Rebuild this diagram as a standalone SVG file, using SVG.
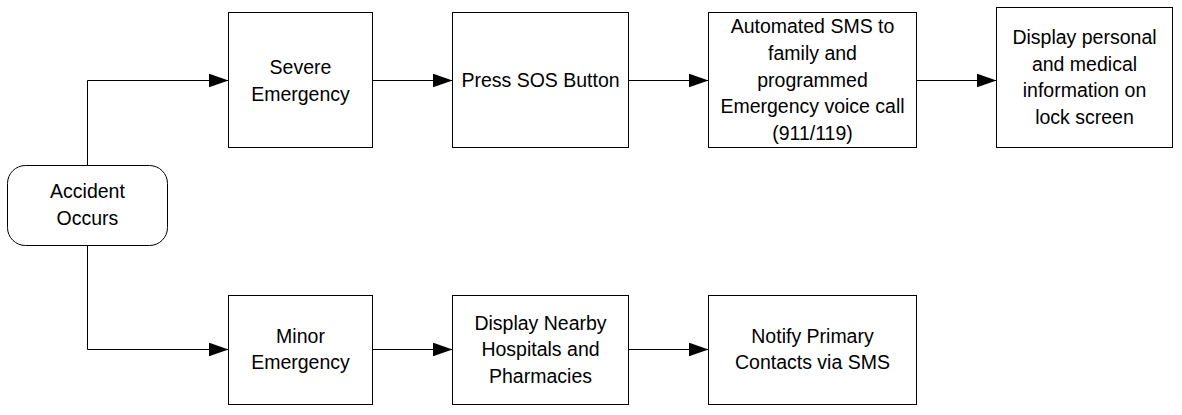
<svg xmlns="http://www.w3.org/2000/svg" width="1182" height="415" viewBox="0 0 1182 415">
<defs>
<style>
.box{fill:#fff;stroke:#000;stroke-width:1}
.t{font-family:"Liberation Sans",Arial,sans-serif;font-size:19.5px;fill:#000;text-anchor:middle}
.c{fill:none;stroke:#000;stroke-width:1}
</style>
<marker id="ah" markerUnits="userSpaceOnUse" markerWidth="20" markerHeight="14" refX="20" refY="7" orient="auto">
<path d="M0,0 L20,7 L0,14 Z" fill="#000"/>
</marker>
</defs>
<rect width="1182" height="415" fill="#fff"/>
<g id="connectors">
<path class="c" d="M87.5,165.5 V80.5 H228.5" marker-end="url(#ah)"/>
<path class="c" d="M87.5,245.5 V349.5 H228.5" marker-end="url(#ah)"/>
<path class="c" d="M372.5,80.5 H452.5" marker-end="url(#ah)"/>
<path class="c" d="M628.5,80.5 H708.5" marker-end="url(#ah)"/>
<path class="c" d="M916.5,80.5 H996.5" marker-end="url(#ah)"/>
<path class="c" d="M372.5,349.5 H452.5" marker-end="url(#ah)"/>
<path class="c" d="M628.5,349.5 H708.5" marker-end="url(#ah)"/>
</g>
<g id="accident">
<rect class="box" x="7.5" y="165.5" width="160" height="80" rx="18"/>
<text class="t" x="87.5" y="198">Accident</text>
<text class="t" x="87.5" y="225">Occurs</text>
</g>
<g id="severe">
<rect class="box" x="228.5" y="12.5" width="144" height="135"/>
<text class="t" x="300.5" y="74">Severe</text>
<text class="t" x="300.5" y="101">Emergency</text>
</g>
<g id="sos">
<rect class="box" x="452.5" y="12.5" width="176" height="135"/>
<text class="t" x="540.5" y="87">Press SOS Button</text>
</g>
<g id="automated">
<rect class="box" x="708.5" y="12.5" width="208" height="135"/>
<text class="t" x="812.5" y="33">Automated SMS to</text>
<text class="t" x="812.5" y="59.5">family and</text>
<text class="t" x="812.5" y="86.5">programmed</text>
<text class="t" x="812.5" y="113">Emergency voice call</text>
<text class="t" x="812.5" y="140">(911/119)</text>
</g>
<g id="display">
<rect class="box" x="996.5" y="7.5" width="176" height="140"/>
<text class="t" x="1084.5" y="44">Display personal</text>
<text class="t" x="1084.5" y="70.5">and medical</text>
<text class="t" x="1084.5" y="97">information on</text>
<text class="t" x="1084.5" y="124">lock screen</text>
</g>
<g id="minor">
<rect class="box" x="228.5" y="295.5" width="144" height="109"/>
<text class="t" x="300.5" y="343">Minor</text>
<text class="t" x="300.5" y="369">Emergency</text>
</g>
<g id="nearby">
<rect class="box" x="452.5" y="295.5" width="176" height="109"/>
<text class="t" x="540.5" y="330">Display Nearby</text>
<text class="t" x="540.5" y="356">Hospitals and</text>
<text class="t" x="540.5" y="383">Pharmacies</text>
</g>
<g id="notify">
<rect class="box" x="708.5" y="295.5" width="208" height="109"/>
<text class="t" x="812.5" y="343">Notify Primary</text>
<text class="t" x="812.5" y="369">Contacts via SMS</text>
</g>
</svg>
